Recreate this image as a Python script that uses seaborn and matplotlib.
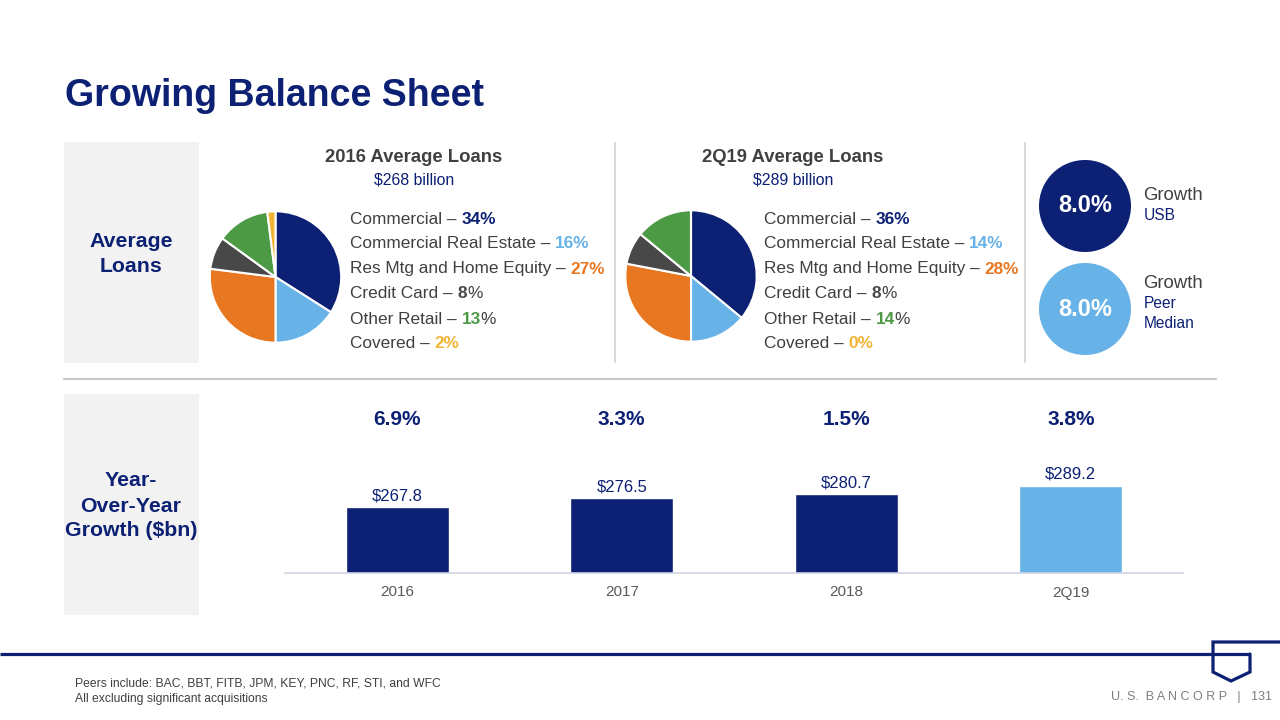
import numpy as np
import pandas as pd
import matplotlib.pyplot as plt
import matplotlib.patches as mpatches
import seaborn as sns

sns.set_style('white')
plt.rcParams['font.family'] = ['Liberation Sans', 'DejaVu Sans']

# 색상
NAVY = '#0C2074'
LIGHT = '#67B2E7'
ORANGE = '#E87722'
DGRAY = '#484848'
GREEN = '#4D9A45'
GOLD = '#F1B434'
TXT = '#404040'
PANEL = '#F2F2F2'

# 데이터
segments = ['Commercial', 'Commercial Real Estate', 'Res Mtg and Home Equity',
            'Credit Card', 'Other Retail', 'Covered']
share_2016 = [34, 16, 27, 8, 13, 2]
share_2q19 = [36, 14, 28, 8, 14, 0]
seg_colors = [NAVY, LIGHT, ORANGE, DGRAY, GREEN, GOLD]
pct_sign_bold = [True, True, True, False, False, True]

periods = ['2016', '2017', '2018', '2Q19']
avg_loans = [267.8, 276.5, 280.7, 289.2]
yoy_growth = ['6.9%', '3.3%', '1.5%', '3.8%']
bar_colors = [NAVY, NAVY, NAVY, LIGHT]

growth_usb = 8.0
growth_peer = 8.0

W, H = 1280, 720
fig = plt.figure(figsize=(12.8, 7.2), dpi=100, facecolor='white')


def px_axes(x0, y0, x1, y1):
    return fig.add_axes([x0 / W, 1 - y1 / H, (x1 - x0) / W, (y1 - y0) / H])


# 배경 레이어 (픽셀 좌표)
bg = px_axes(0, 0, W, H)
bg.set_xlim(0, W)
bg.set_ylim(H, 0)
bg.axis('off')

bg.text(65, 96, 'Growing Balance Sheet', fontsize=27, fontweight='bold',
        color=NAVY, va='center', ha='left')

# 왼쪽 회색 패널
bg.add_patch(mpatches.Rectangle((64, 142), 135, 221, color=PANEL, lw=0))
bg.add_patch(mpatches.Rectangle((64, 394), 135, 221, color=PANEL, lw=0))
bg.text(131, 254, 'Average\nLoans', fontsize=15.3, fontweight='bold', color=NAVY,
        ha='center', va='center', linespacing=1.4)
bg.text(131, 506, 'Year-\nOver-Year\nGrowth ($bn)', fontsize=15.3, fontweight='bold',
        color=NAVY, ha='center', va='center', linespacing=1.4)

# 구분선
bg.plot([615, 615], [143, 362], color='#D9D9D9', lw=1.5)
bg.plot([1025, 1025], [143, 362], color='#D9D9D9', lw=1.5)
bg.plot([64, 1216], [379, 379], color='#C8C8C8', lw=1.5)

# 하단 로고 라인
bg.plot([0, 1250], [654, 654], color=NAVY, lw=2.3, solid_capstyle='butt')
bg.plot([1280, 1213, 1213, 1231, 1250, 1250], [642, 642, 672, 681, 672, 654],
        color=NAVY, lw=2.3, solid_joinstyle='miter')

bg.text(75, 684, 'Peers include: BAC, BBT, FITB, JPM, KEY, PNC, RF, STI, and WFC',
        fontsize=8.75, color=TXT, va='center')
bg.text(75, 699, 'All excluding significant acquisitions', fontsize=8.75, color=TXT, va='center')
bg.text(1272, 697, 'U. S.  B A N C O R P   |   131', fontsize=9, color='#7F7F7F',
        va='center', ha='right')


def rich_line(x, y, parts, size=12.4):
    s, c, w = parts[0]
    t = bg.text(x, y, s, color=c, fontweight=w, fontsize=size, va='center', ha='left')
    for s, c, w in parts[1:]:
        t = bg.annotate(s, xy=(1, 0), xycoords=t, va='bottom', ha='left',
                        color=c, fontweight=w, fontsize=size)


def pie_panel(cx, cy, r, shares, title, subtitle, title_x, text_x):
    ax = px_axes(cx - r, cy - r, cx + r, cy + r)
    ax.pie(shares, colors=seg_colors, startangle=90, counterclock=False, radius=1,
           wedgeprops=dict(edgecolor='white', linewidth=1.5))
    ax.set_xlim(-1.02, 1.02)
    ax.set_ylim(-1.02, 1.02)
    ax.set_aspect('equal')
    bg.text(title_x, 158, title, fontsize=13.3, fontweight='bold', color=TXT,
            ha='center', va='center')
    bg.text(title_x, 180, subtitle, fontsize=11.4, color=NAVY, ha='center', va='center')
    for i, (name, val) in enumerate(zip(segments, shares)):
        parts = [(f'{name} – ', TXT, 'normal')]
        if pct_sign_bold[i]:
            parts.append((f'{val}%', seg_colors[i], 'bold'))
        else:
            parts.append((f'{val}', seg_colors[i], 'bold'))
            parts.append(('%', TXT, 'normal'))
        rich_line(text_x, 219 + 25 * i, parts)


pie_panel(275.5, 277, 67, share_2016, '2016 Average Loans', '$268 billion', 414, 350)
pie_panel(691, 276, 67, share_2q19, '2Q19 Average Loans', '$289 billion', 793, 764)

# 성장률 원
circle_info = [(206, NAVY, growth_usb, 195, ['USB'], 216),
               (309, LIGHT, growth_peer, 283, ['Peer', 'Median'], 303)]
for cy, col, val, gy, who, wy in circle_info:
    bg.add_patch(mpatches.Circle((1085, cy), 46, color=col, lw=0))
    bg.text(1085, cy, f'{val:.1f}%', fontsize=17, fontweight='bold', color='white',
            ha='center', va='center')
    bg.text(1143, gy, 'Growth', fontsize=13.4, color=TXT, ha='left', va='center')
    for k, w in enumerate(who):
        bg.text(1144, wy + 20 * k, w, fontsize=11.2, color=NAVY, ha='left', va='center')

# 막대 그래프
axb = px_axes(285, 460, 1183, 573)
df = pd.DataFrame({'period': periods, 'loans': avg_loans})
sns.barplot(data=df, x='period', y='loans', hue='period', palette=bar_colors,
            width=0.46, saturation=1, legend=False, ax=axb)
axb.set_ylim(202, 315)
axb.set_xlim(-0.5, 3.5)
axb.set_xlabel('')
axb.set_ylabel('')
axb.set_yticks([])
for sp in ['left', 'top', 'right']:
    axb.spines[sp].set_visible(False)
axb.spines['bottom'].set_color('#D0D4E4')
axb.spines['bottom'].set_linewidth(1.2)
axb.tick_params(axis='x', length=0, pad=9, labelsize=11, labelcolor='#595959')
axb.set_facecolor('none')

for cont in axb.containers:
    axb.bar_label(cont, fmt='$%.1f', padding=3, color=NAVY, fontsize=12)

for i, g in enumerate(yoy_growth):
    axb.annotate(g, xy=(i, 1.354), xycoords=('data', 'axes fraction'), ha='center',
                 va='center', fontweight='bold', color=NAVY, fontsize=15)

fig.savefig('out.png', dpi=100)
